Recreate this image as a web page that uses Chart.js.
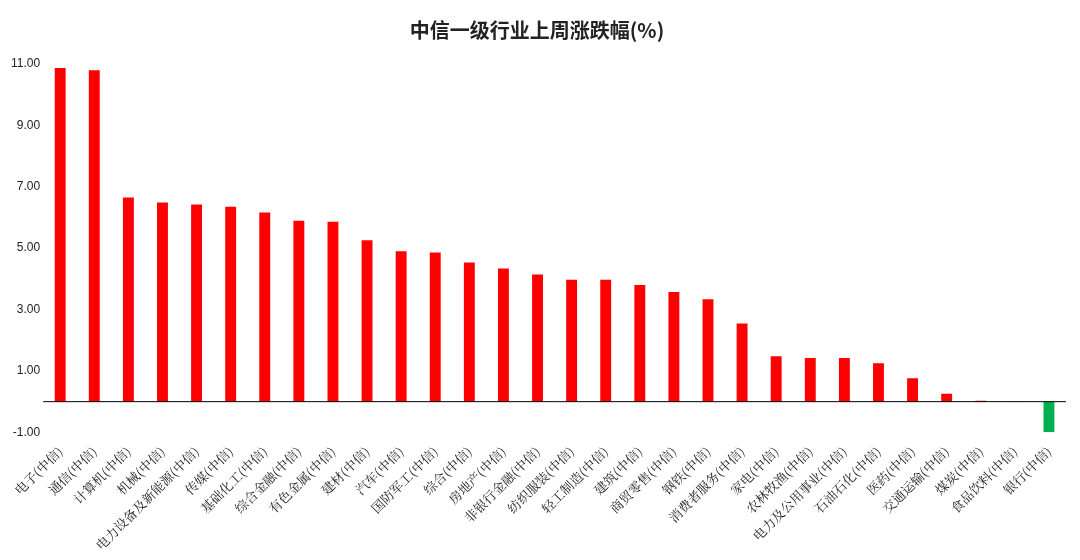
<!DOCTYPE html>
<html><head><meta charset="utf-8">
<script src="https://cdn.jsdelivr.net/npm/chart.js@4"></script>
<style>body{margin:0;background:#fff}#wrap{width:1080px;height:560px}</style>
</head><body><div id="wrap"><canvas id="c"></canvas></div>
<script>
const categories = ['电子(中信)','通信(中信)','计算机(中信)','机械(中信)','电力设备及新能源(中信)','传媒(中信)','基础化工(中信)','综合金融(中信)','有色金属(中信)','建材(中信)','汽车(中信)','国防军工(中信)','综合(中信)','房地产(中信)','非银行金融(中信)','纺织服装(中信)','轻工制造(中信)','建筑(中信)','商贸零售(中信)','钢铁(中信)','消费者服务(中信)','家电(中信)','农林牧渔(中信)','电力及公用事业(中信)','石油石化(中信)','医药(中信)','交通运输(中信)','煤炭(中信)','食品饮料(中信)','银行(中信)'];
const changes = [10.87,10.80,6.65,6.49,6.42,6.35,6.16,5.89,5.86,5.26,4.90,4.86,4.53,4.34,4.14,3.97,3.97,3.80,3.57,3.34,2.55,1.48,1.42,1.42,1.25,0.76,0.26,0.03,-0.01,-1.00];
const yTicks = [-1,1,3,5,7,9,11];

window.addEventListener('load', () => {
  const ctx = document.getElementById('c').getContext('2d');
  new Chart(ctx, {
    type: 'bar',
    data: {
      labels: categories,
      datasets: [{
        data: changes,
        backgroundColor: changes.map(v => v < 0 ? '#00B050' : '#FF0000'),
        barPercentage: 0.32,
        categoryPercentage: 1
      }]
    },
    options: {
      responsive: true, maintainAspectRatio: false, animation: false,
      layout: {padding: {left: 8, right: 14, top: 8, bottom: 4}},
      plugins: {
        legend: {display: false},
        title: {display: true, text: '中信一级行业上周涨跌幅(%)', color: '#222',
          font: {size: 20, weight: 'bold', family: 'Noto Sans CJK SC'}, padding: {top: 10, bottom: 22}}
      },
      scales: {
        y: {
          min: -1, max: 11,
          afterBuildTicks: a => { a.ticks = yTicks.map(v => ({value: v})); },
          ticks: {callback: v => v.toFixed(2), color: '#222', font: {size: 12, family: 'Liberation Sans'}},
          border: {display: false},
          grid: {drawTicks: false, color: c => c.tick && c.tick.value === 0 ? '#000' : 'transparent'}
        },
        x: {
          border: {display: false},
          grid: {display: false},
          ticks: {autoSkip: false, maxRotation: 45, minRotation: 45, color: '#222',
            font: {size: 13, family: 'Noto Serif CJK SC, Noto Sans CJK SC'}}
        }
      }
    },
    plugins: [{
      id: 'zeroLine',
      afterDatasetsDraw(chart) {
        const {ctx, chartArea, scales} = chart;
        const y = scales.y.getPixelForValue(0);
        ctx.save(); ctx.strokeStyle = '#000'; ctx.lineWidth = 1;
        ctx.beginPath(); ctx.moveTo(chartArea.left, y); ctx.lineTo(chartArea.right, y); ctx.stroke();
        ctx.restore();
      }
    }]
  });
});
</script></body></html>
